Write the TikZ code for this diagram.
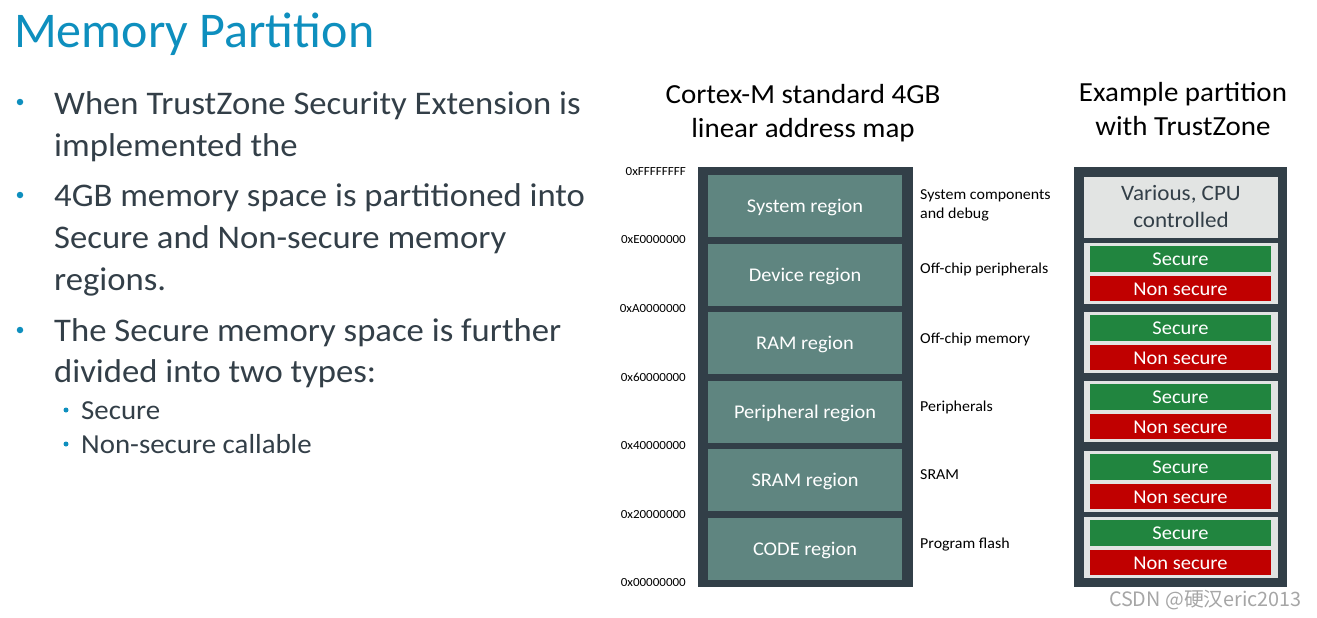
\documentclass[tikz,border=0pt]{standalone}
\usepackage{fontspec}
\setmainfont{Carlito}
\newfontfamily\wfont[FakeStretch=1.05]{Carlito}
\newfontfamily\cjkfont{Noto Sans CJK SC}
\definecolor{darkc}{HTML}{323F48}
\definecolor{tealc}{HTML}{5F8580}
\definecolor{lightc}{HTML}{E2E4E3}
\definecolor{greenc}{HTML}{21853F}
\definecolor{redc}{HTML}{C00000}
\definecolor{bluec}{HTML}{0E8FBE}
\definecolor{textc}{HTML}{333F48}
\begin{document}
\begin{tikzpicture}[x=1pt,y=-1pt,
  outerbox/.style={fill=darkc,draw=none},
  region/.style={fill=tealc,text=white,inner sep=0pt,minimum width=194pt,minimum height=62pt,text height=17pt,text depth=4pt,font=\wfont\fontsize{19.4}{22}\selectfont},
  lightbox/.style={fill=lightc,inner sep=0pt,minimum width=194pt,minimum height=61pt},
  secbox/.style={fill=greenc,text=white,inner sep=0pt,minimum width=181pt,minimum height=26pt,text height=17.5pt,text depth=4pt,font=\wfont\fontsize{19.5}{21}\selectfont},
  nsecbox/.style={fill=redc,text=white,inner sep=0pt,minimum width=181pt,minimum height=25.5pt,text height=17.5pt,text depth=4pt,font=\wfont\fontsize{19.5}{21}\selectfont},
  addr/.style={anchor=east,inner sep=0pt,text=black,font=\wfont\fontsize{12.4}{14}\selectfont},
  desc/.style={anchor=west,inner sep=0pt,text=black,font=\wfont\fontsize{15.2}{19}\selectfont,align=left},
  head/.style={anchor=base,inner sep=0pt,text=black,font=\wfont\fontsize{27.6}{32}\selectfont},
  btext/.style={anchor=base west,inner sep=0pt,text=textc,font=\wfont\fontsize{33}{38}\selectfont},
  stext/.style={anchor=base west,inner sep=0pt,text=textc,font=\wfont\fontsize{27.5}{30}\selectfont},
  dot/.style={circle,fill=bluec,inner sep=0pt,minimum size=6.5pt},
  sdot/.style={circle,fill=bluec,inner sep=0pt,minimum size=5pt}]
\useasboundingbox (0,0) rectangle (1317,618);
\fill[white] (0,0) rectangle (1317,618);

% Title
\node[anchor=base west,inner sep=0pt,text=bluec,font=\fontsize{50}{56}\selectfont] (title) at (14,48) {Memory Partition};

% Bullets
\node[dot] (d1) at (20,102) {};
\node[btext] (l1) at (54,114) {When TrustZone Security Extension is};
\node[btext] (l2) at (54,156) {implemented the};
\node[dot] (d2) at (20,195) {};
\node[btext] (l3) at (54,206) {4GB memory space is partitioned into};
\node[btext] (l4) at (54,248) {Secure and Non-secure memory};
\node[btext] (l5) at (54,290) {regions.};
\node[dot] (d3) at (20,330) {};
\node[btext] (l6) at (54,341) {The Secure memory space is further};
\node[btext] (l7) at (54,382) {divided into two types:};
\node[sdot] (s1) at (66,410) {};
\node[stext] (l8) at (81,419) {Secure};
\node[sdot] (s2) at (66,444) {};
\node[stext] (l9) at (81,453) {Non-secure callable};

% Headings
\node[head] (h1) at (803,103) {Cortex-M standard 4GB};
\node[head] (h2) at (803,137) {linear address map};
\node[head] (h3) at (1183,101) {Example partition};
\node[head] (h4) at (1183,135) {with TrustZone};

% Left map
\fill[outerbox] (698,167) rectangle (913,587);
\node[region] (sys) at (805,206) {System region};
\node[region] (dev) at (805,274.5) {Device region};
\node[region] (ram) at (805,343) {RAM region};
\node[region] (per) at (805,412) {Peripheral region};
\node[region] (sram) at (805,480) {SRAM region};
\node[region] (code) at (805,549) {CODE region};

% Addresses
\node[addr] (a0) at (686,172) {0xFFFFFFFF};
\node[addr] (a1) at (686,240) {0xE0000000};
\node[addr] (a2) at (686,309) {0xA0000000};
\node[addr] (a3) at (686,377) {0x60000000};
\node[addr] (a4) at (686,446) {0x40000000};
\node[addr] (a5) at (686,515) {0x20000000};
\node[addr] (a6) at (686,583) {0x00000000};

% Descriptions
\node[desc] (e1) at (920,205) {System components\\and debug};
\node[desc] (e2) at (920,269) {Off-chip peripherals};
\node[desc] (e3) at (920,339) {Off-chip memory};
\node[desc] (e4) at (920,407) {Peripherals};
\node[desc] (e5) at (920,475) {SRAM};
\node[desc] (e6) at (920,545) {Program flash};

% Right partition
\fill[outerbox] (1074,167) rectangle (1287,587);
\node[lightbox,text=textc,align=center,font=\wfont\fontsize{22}{27}\selectfont] (cpu) at (1181,207) {Various, CPU\\controlled};
\foreach \t [count=\i] in {243,312,381,451,517}{
  \node[lightbox] (g\i) at (1181,\t+30.5) {};
  \node[secbox] (sec\i) at (1180.5,\t+16) {Secure};
  \node[nsecbox] (ns\i) at (1180.5,\t+45.5) {Non secure};
}

% Watermark
\node[anchor=base east,inner sep=0pt,text=black!35,font=\cjkfont\fontsize{19.8}{22}\selectfont] (wm) at (1302,606) {CSDN @硬汉eric2013};
\end{tikzpicture}
\end{document}
